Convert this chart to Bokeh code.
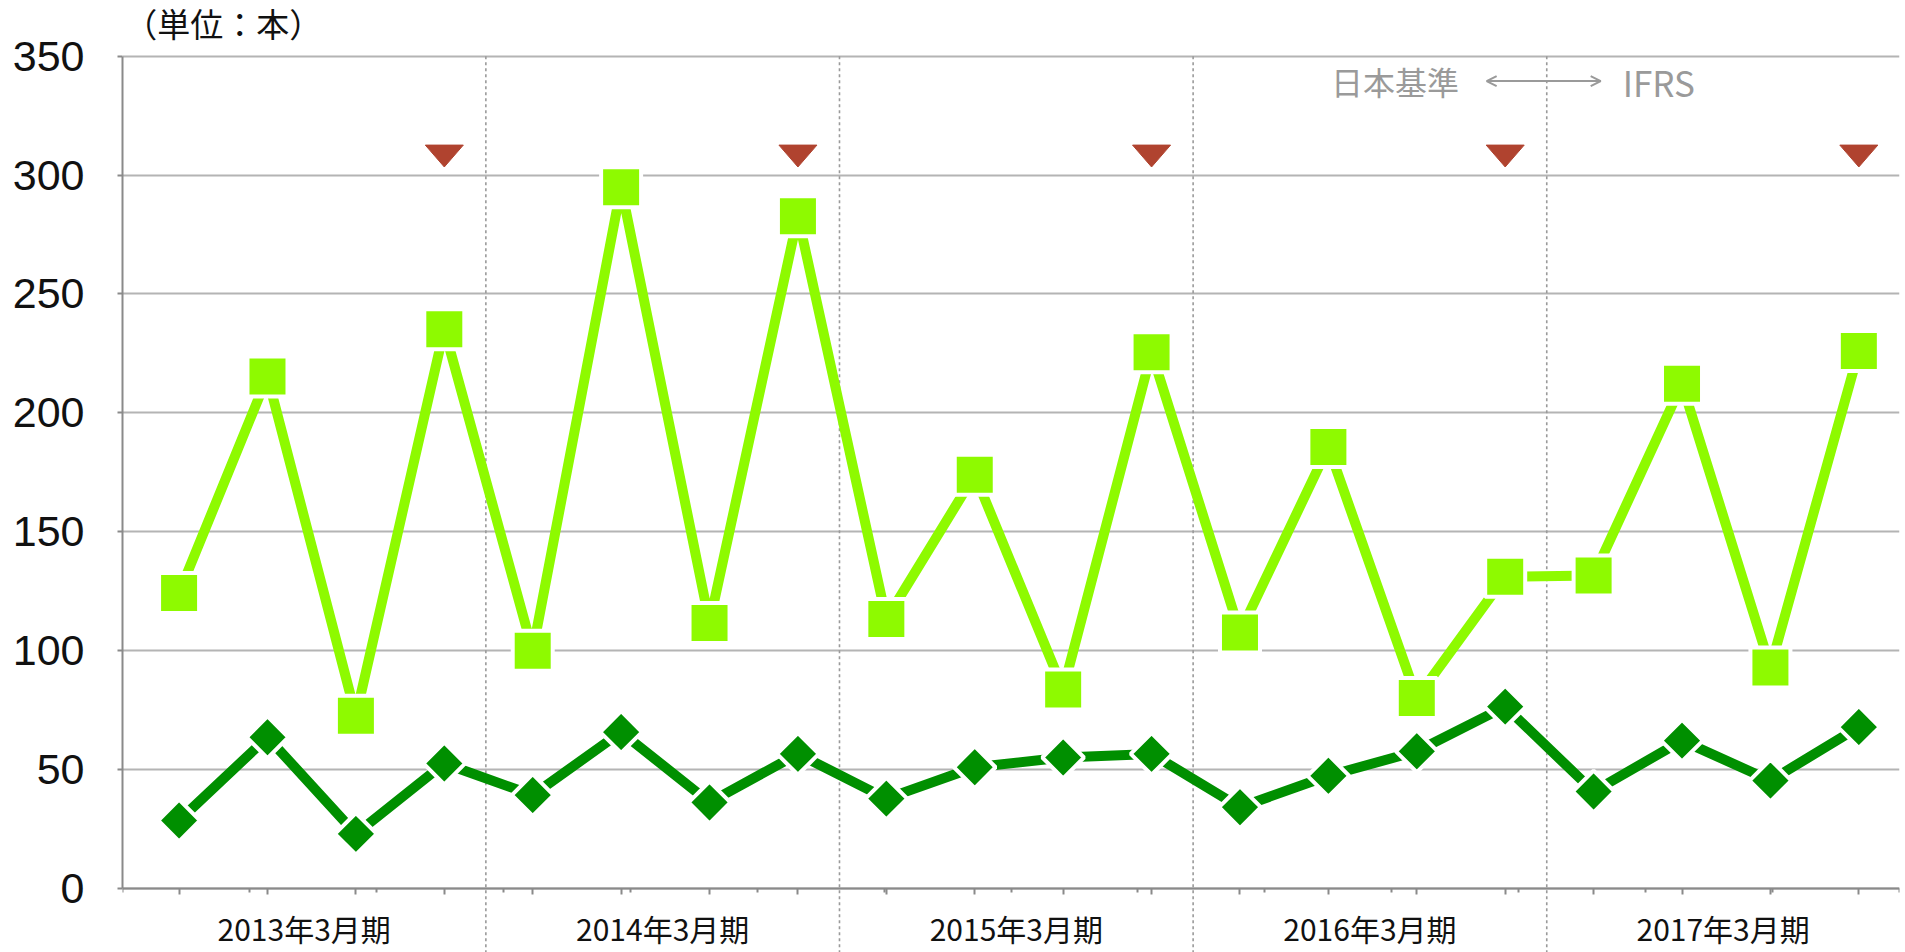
from bokeh.plotting import figure
from bokeh.models import Range1d, FixedTicker, Arrow, OpenHead
from bokeh.core.properties import value
from bokeh.embed import file_html
from bokeh.resources import INLINE

# ---- data ----
quarters = list(range(20))
years = ["2013年3月期", "2014年3月期", "2015年3月期", "2016年3月期", "2017年3月期"]
light_series = [124.3, 215.3, 72.6, 235.2, 100.0, 294.9, 111.7, 282.7, 113.3, 174.0,
                83.7, 225.5, 107.7, 185.7, 80.1, 131.1, 131.6, 212.2, 92.9, 226.0]
dark_series = [28.6, 63.6, 23.0, 52.6, 39.3, 65.8, 36.2, 56.6, 37.8, 51.0,
               55.1, 56.6, 34.2, 47.4, 57.7, 76.5, 40.8, 62.2, 45.4, 67.9]
fy_end_idx = [3, 7, 11, 15, 19]
fy_end_val = [308, 308, 308, 308, 308]
y_ticks = [0, 50, 100, 150, 200, 250, 300, 350]
unit_text = ["（単位：本）"]
legend_left = ["日本基準"]
legend_right = ["IFRS"]

LIGHT = "#8EFA00"
DARK = "#008F00"
RED = "#B0432F"
GRAY = "#9A9A9A"
AXIS = "#8A8A8A"

x0, x1 = -0.64, 19.46
y_lo, y_hi = -26.9, 373.4
p = figure(width=1904, height=952, output_backend="svg", toolbar_location=None,
           x_range=Range1d(x0, x1), y_range=Range1d(y_lo, y_hi),
           min_border_left=122, min_border_right=5, min_border_top=0, min_border_bottom=0)
p.outline_line_color = None
p.background_fill_color = "white"
p.border_fill_color = "white"

# y axis
p.yaxis.ticker = FixedTicker(ticks=y_ticks)
p.yaxis.bounds = (0, 350)
p.yaxis.major_label_text_font = "Liberation Sans"
p.yaxis.major_label_text_font_size = "43px"
p.yaxis.major_label_text_color = "#111111"
p.yaxis.major_label_standoff = 33
p.yaxis.major_tick_out = 5
p.yaxis.major_tick_in = 0
p.yaxis.minor_tick_out = 0
p.yaxis.minor_tick_in = 0
p.yaxis.axis_line_color = AXIS
p.yaxis.axis_line_width = 2
p.yaxis.major_tick_line_color = AXIS
p.yaxis.major_tick_line_width = 2

# x axis, drawn at y = 0 inside the frame
minor = [x0 + k * (x1 - x0) / 14 for k in range(15)]
p.xaxis.fixed_location = 0
p.xaxis.ticker = FixedTicker(ticks=quarters, minor_ticks=minor)
p.xaxis.major_label_overrides = {q: "" for q in quarters}
p.xaxis.major_tick_out = 6
p.xaxis.major_tick_in = 0
p.xaxis.minor_tick_out = 4
p.xaxis.minor_tick_in = 0
p.xaxis.axis_line_color = AXIS
p.xaxis.axis_line_width = 2
p.xaxis.major_tick_line_color = AXIS
p.xaxis.major_tick_line_width = 2
p.xaxis.minor_tick_line_color = AXIS
p.xaxis.minor_tick_line_width = 2

p.xgrid.grid_line_color = None
p.ygrid.grid_line_color = "#B4B4B4"
p.ygrid.grid_line_width = 2

# year separators (dashed, run below the axis)
bounds = [fy_end_idx[k] + 0.47 for k in range(4)]
p.segment(x0=bounds, y0=[350] * 4, x1=bounds, y1=[y_lo] * 4,
          line_color=GRAY, line_width=1.6, line_dash="3 3")

# series
p.line(quarters, light_series, line_color=LIGHT, line_width=10)
p.scatter(quarters, light_series, marker="square", size=40, fill_color=LIGHT,
          line_color="white", line_width=4)
p.line(quarters, dark_series, line_color=DARK, line_width=10)
p.scatter(quarters, dark_series, marker="square", size=29.5, angle=0.785398,
          fill_color=DARK, line_color="white", line_width=4)

# fiscal-year-end triangles
half_w, half_h = 0.215, 4.6
tri_xs = [[i - half_w, i + half_w, i] for i in fy_end_idx]
tri_ys = [[v + half_h, v + half_h, v - half_h] for v in fy_end_val]
p.patches(tri_xs, tri_ys, fill_color=RED, line_color=RED)

# year labels
edges = [x0] + bounds + [x1]
centers = [(edges[k] + edges[k + 1]) / 2 for k in range(5)]
p.text(x=centers, y=[-16.5] * 5, text=years, text_align="center", text_baseline="middle",
       text_font=value("Noto Sans CJK JP"), text_font_size="30px", text_color="#111111")

# unit label
p.text(x=[x0 + 0.02], y=[364.0], text=unit_text, text_align="left", text_baseline="middle",
       text_font=value("Noto Sans CJK JP"), text_font_size="33px", text_color="#111111")

# accounting standard change legend
p.text(x=[13.03], y=[339.5], text=legend_left, text_align="left", text_baseline="middle",
       text_font=value("Noto Sans CJK JP"), text_font_size="32px", text_color=GRAY)
p.text(x=[16.33], y=[339.5], text=legend_right, text_align="left", text_baseline="middle",
       text_font=value("Noto Sans CJK JP"), text_font_size="35px", text_color=GRAY)
p.add_layout(Arrow(x_start=14.79, y_start=339.5, x_end=16.08, y_end=339.5,
                   line_color=GRAY, line_width=2,
                   start=OpenHead(size=10, line_color=GRAY, line_width=2),
                   end=OpenHead(size=10, line_color=GRAY, line_width=2)))

open("out.html", "w").write(file_html(p, INLINE))
